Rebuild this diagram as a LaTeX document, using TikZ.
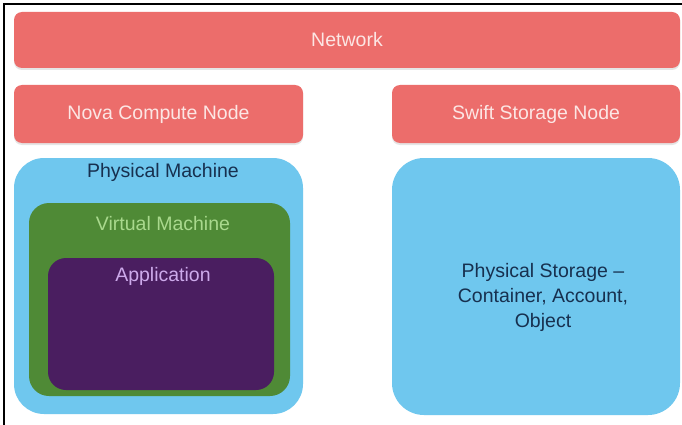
\documentclass[tikz,border=0pt]{standalone}
\usepackage{fontspec}
\setmainfont{Liberation Sans}
\usetikzlibrary{shadows}
\definecolor{netred}{HTML}{EC6D6B}
\definecolor{redtext}{HTML}{FCE6E4}
\definecolor{skyblue}{HTML}{6FC7EE}
\definecolor{vmgreen}{HTML}{4F8A36}
\definecolor{apppurple}{HTML}{4A1E60}
\definecolor{navytext}{HTML}{17304F}
\definecolor{vmtext}{HTML}{A9D98D}
\definecolor{apptext}{HTML}{CDAAEB}
\tikzset{
  lbl/.style={font=\fontsize{19.5}{25}\selectfont, inner sep=0pt},
  redbox/.style={lbl, fill=netred, draw=none, rounded corners=8pt, text=redtext,
    drop shadow={shadow xshift=0pt, shadow yshift=-2pt, opacity=0.2}},
  bluebox/.style={fill=skyblue, draw=none, rounded corners=30pt, inner sep=0pt},
  greenbox/.style={fill=vmgreen, draw=none, rounded corners=20pt, inner sep=0pt},
  purplebox/.style={fill=apppurple, draw=none, rounded corners=18pt, inner sep=0pt},
  frameline/.style={draw=black, line width=2pt}
}
\begin{document}
\begin{tikzpicture}[x=1pt,y=-1pt]
\useasboundingbox (0,0) rectangle (682,425);
\fill[white] (0,0) rectangle (682,425);
\coordinate (fa) at (4,425);
\coordinate (fb) at (4,4);
\coordinate (fc) at (682,4);
\draw[frameline] (fa) -- (fb) -- (fc);

\node[redbox, minimum width=666pt, minimum height=56pt] (net) at (347,40) {Network};
\node[redbox, minimum width=289pt, minimum height=58pt] (nova) at (158.5,114) {Nova Compute Node};
\node[redbox, minimum width=288pt, minimum height=58pt] (swift) at (536,114) {Swift Storage Node};

\node[bluebox, minimum width=289pt, minimum height=256pt] (pm) at (158.5,286) {};
\node[greenbox, minimum width=261pt, minimum height=193pt] (vm) at (159.5,299.5) {};
\node[purplebox, minimum width=226pt, minimum height=132pt] (app) at (161,324) {};
\node[lbl, text=navytext] (pmlbl) at (163,172) {Physical Machine};
\node[lbl, text=vmtext] (vmlbl) at (163,224) {Virtual Machine};
\node[lbl, text=apptext] (applbl) at (163,276) {Application};

\node[bluebox, rounded corners=32pt, minimum width=288pt, minimum height=257pt] (ps) at (536,286.5) {};
\node[lbl, text=navytext, align=center] (pslbl) at (543,297) {Physical Storage –\\Container, Account,\\Object};
\end{tikzpicture}
\end{document}
